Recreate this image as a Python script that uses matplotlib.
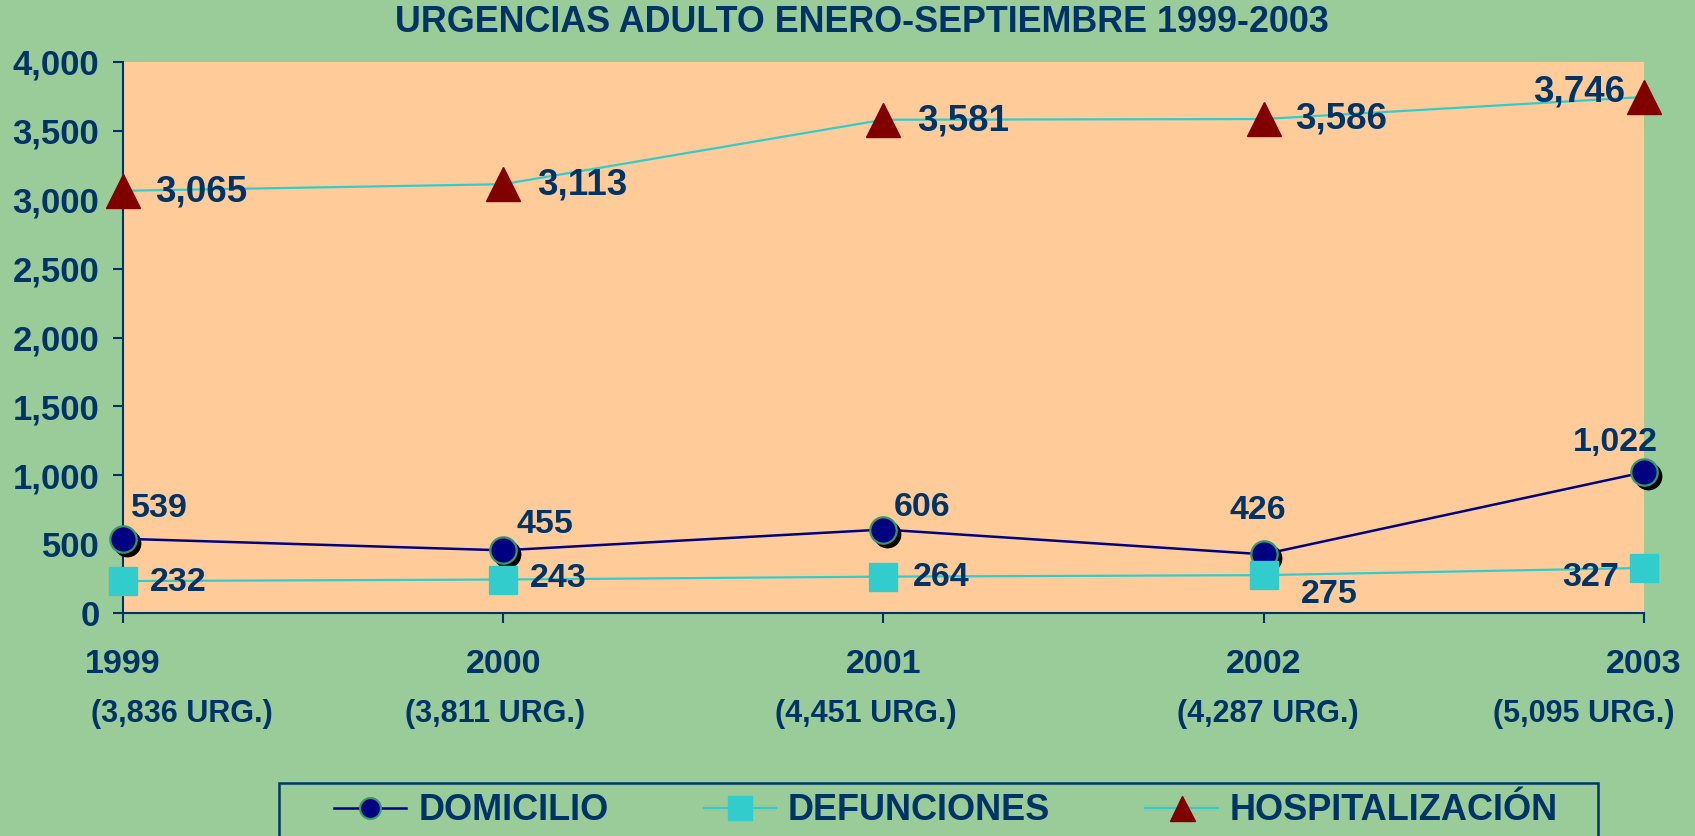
import matplotlib
matplotlib.use("Agg")
import matplotlib.pyplot as plt
from matplotlib.lines import Line2D
from matplotlib.patches import Rectangle
from matplotlib.transforms import offset_copy
from matplotlib.ticker import FuncFormatter

# datos
years = ["1999", "2000", "2001", "2002", "2003"]
urgencias = ["(3,836 URG.)", "(3,811 URG.)", "(4,451 URG.)", "(4,287 URG.)", "(5,095 URG.)"]
domicilio = [539, 455, 606, 426, 1022]
defunciones = [232, 243, 264, 275, 327]
hospitalizacion = [3065, 3113, 3581, 3586, 3746]

# colores
BG = "#99CC99"
PLOT_BG = "#FFCC99"
NAVY = "#003366"
DOM_C = "#000080"
DEF_C = "#33CCCC"
HOS_C = "#800000"

plt.rcParams["font.family"] = ["Liberation Sans", "DejaVu Sans"]
plt.rcParams["font.weight"] = "bold"

fig = plt.figure(figsize=(16.95, 8.36), dpi=100, facecolor=BG)
ax = fig.add_axes([123 / 1695, 1 - 613 / 836, 1521 / 1695, 551 / 836])
ax.set_facecolor(PLOT_BG)

x = list(range(len(years)))

# sombra de los circulos
shadow = offset_copy(ax.transData, fig=fig, x=4, y=-4, units="dots")
ax.plot(x, domicilio, ls="none", marker="o", ms=19, color="black", transform=shadow,
        clip_on=False, zorder=3)
ax.plot(x, domicilio, color=DOM_C, lw=1.8, marker="o", ms=19, mfc=DOM_C, mec="#339966",
        mew=1.6, clip_on=False, zorder=4)
ax.plot(x, defunciones, color=DEF_C, lw=1.6, marker="s", ms=20, mfc=DEF_C, mec=DEF_C,
        clip_on=False, zorder=5)
ax.plot(x, hospitalizacion, color=DEF_C, lw=1.6, marker="^", ms=25, mfc=HOS_C, mec=HOS_C,
        clip_on=False, zorder=5)

# etiquetas de datos (desplazamiento en pixeles, tamaño)
dom_off = [(36, 30), (42, 26), (39, 22), (-6, 44), (-29, 30)]
def_off = [(55, -1), (55, 1), (58, -1), (66, -19), (-53, -10)]
hos_off = [(78, -1), (79, -1), (80, -1), (77, 0), (-65, 5)]
for serie, offs, fs in [(domicilio, dom_off, 24.5), (defunciones, def_off, 24.5),
                        (hospitalizacion, hos_off, 26.5)]:
    for i, v in enumerate(serie):
        ax.annotate(f"{v:,}", (i, v), xytext=offs[i], textcoords="offset pixels",
                    ha="center", va="center", fontsize=fs, color=NAVY, fontweight="bold",
                    zorder=6, annotation_clip=False)

ax.set_xlim(0, 4)
ax.set_ylim(0, 4000)
ax.set_yticks(range(0, 4001, 500))
ax.yaxis.set_major_formatter(FuncFormatter(lambda v, p: f"{int(v):,}"))
ax.set_xticks(x)
ax.set_xticklabels(years)

for s in ["top", "right"]:
    ax.spines[s].set_visible(False)
for s in ["left", "bottom"]:
    ax.spines[s].set_color(NAVY)
    ax.spines[s].set_linewidth(1.5)
ax.tick_params(axis="y", colors=NAVY, labelsize=25, width=1.5, length=7, pad=10)
ax.tick_params(axis="x", colors=NAVY, labelsize=24.5, width=1.5, length=7, pad=19)

sub_dx = [59, -8, -18, 4, -60]
for i, t in enumerate(urgencias):
    ax.annotate(t, (i, 0), xycoords=("data", "axes fraction"), xytext=(sub_dx[i], -101),
                textcoords="offset pixels", ha="center", va="center", fontsize=22,
                color=NAVY, fontweight="bold", annotation_clip=False)

fig.text(862 / 1695, 1 - 23 / 836, "URGENCIAS ADULTO ENERO-SEPTIEMBRE 1999-2003",
         ha="center", va="center", fontsize=25.8, color=NAVY, fontweight="bold")

# leyenda
handles = [
    Line2D([], [], color=DOM_C, lw=1.8, marker="o", ms=15, mfc=DOM_C, mec="#339966", mew=1.5),
    Line2D([], [], color=DEF_C, lw=1.6, marker="s", ms=17, mfc=DEF_C, mec=DEF_C),
    Line2D([], [], color=DEF_C, lw=1.6, marker="^", ms=18, mfc=HOS_C, mec=HOS_C),
]
leg = fig.legend(handles, ["DOMICILIO", "DEFUNCIONES", "HOSPITALIZACIÓN"], ncol=3,
                 loc="center left", bbox_to_anchor=(334 / 1695, 1 - 811 / 836),
                 frameon=False, borderpad=0, borderaxespad=0, handlelength=2.0,
                 handletextpad=0.33, columnspacing=2.64, prop={"size": 26, "weight": "bold"})
for t in leg.get_texts():
    t.set_color(NAVY)

fig.patches.append(Rectangle((279 / 1695, -0.05), (1598 - 279) / 1695, 0.05 + 1 - 783 / 836,
                             transform=fig.transFigure, fill=False, edgecolor=NAVY, lw=1.8))

fig.savefig("out.png", dpi=100, facecolor=BG)
